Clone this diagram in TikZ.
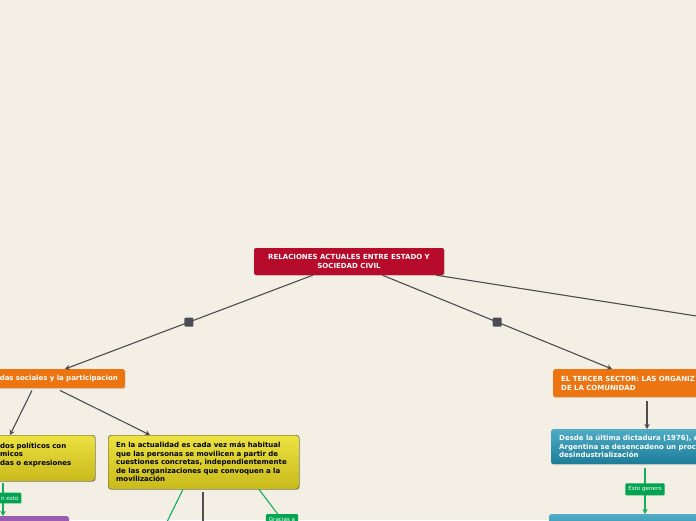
\documentclass[tikz,border=0pt]{standalone}
\usepackage{fontspec}
\setsansfont{DejaVu Sans}
\usetikzlibrary{positioning,calc,arrows.meta,shadows}
\definecolor{paper}{RGB}{244,239,228}
\definecolor{rootred}{RGB}{183,11,43}
\definecolor{topicorange}{RGB}{236,117,18}
\definecolor{ideatop}{RGB}{236,226,66}
\definecolor{ideabot}{RGB}{200,186,26}
\definecolor{facttop}{RGB}{80,172,198}
\definecolor{factbot}{RGB}{28,124,152}
\definecolor{linkgreen}{RGB}{20,172,90}
\definecolor{labelgreen}{RGB}{0,163,80}
\definecolor{respurple}{RGB}{155,92,178}
\definecolor{conngray}{RGB}{77,77,80}
\definecolor{knobgray}{RGB}{74,77,85}

\begin{document}
\begin{tikzpicture}[
    x=1pt, y=-1pt,
    >={Stealth[length=5pt,width=5.5pt]},
    font=\sffamily\bfseries\fontsize{7}{8.5}\selectfont,
    shade/.style={
        drop shadow={shadow xshift=0.8pt, shadow yshift=-0.8pt, opacity=0.25}
    },
    root/.style={
        shade,
        fill=rootred,
        text=white,
        rounded corners=2pt,
        minimum width=190pt,
        minimum height=27pt,
        align=center
    },
    topic/.style={
        shade,
        fill=topicorange,
        text=white,
        rounded corners=2pt,
        inner xsep=8pt
    },
    idea/.style={
        shade,
        draw=black!75,
        top color=ideatop,
        bottom color=ideabot,
        rounded corners=3pt,
        inner xsep=8pt,
        align=left
    },
    fact/.style={
        shade,
        top color=facttop,
        bottom color=factbot,
        text=white,
        rounded corners=2pt,
        inner xsep=8pt,
        align=left
    },
    glabel/.style={
        fill=labelgreen,
        text=white,
        font=\sffamily\fontsize{5.6}{6}\selectfont,
        rounded corners=1pt,
        inner xsep=3pt,
        minimum height=10pt
    },
    knob/.style={
        fill=knobgray,
        rounded corners=1pt,
        minimum size=9pt,
        inner sep=0pt
    },
    conn/.style={draw=conngray, line width=1.1pt},
    glink/.style={draw=linkgreen, line width=1.1pt}
]
\useasboundingbox (0,0) rectangle (696,520);
\fill[paper] (0,0) rectangle (696,520);
\clip (0,0) rectangle (696,520);

% central topic
\node[root] (rel) at (349,261.5)
{RELACIONES ACTUALES ENTRE ESTADO Y\\SOCIEDAD CIVIL};

% main branches
\node[topic, anchor=north east, text width=160pt, align=right,
      minimum height=19pt, inner xsep=7pt] (dem) at (125,369)
{das sociales y la participacion};

\node[topic, anchor=north west, text width=180pt, align=left,
      minimum height=28pt] (ter) at (553,369)
{EL TERCER SECTOR: LAS ORGANIZ\\DE LA COMUNIDAD};

\coordinate (offr) at (760,326);

% subtopics
\node[idea, anchor=north west, text width=91pt, minimum height=46pt,
      inner xsep=4pt] (pol) at (-4,435)
{dos políticos con\\micos\\das o expresiones\\~};

\node[idea, anchor=north west, text width=175pt, minimum height=54pt] (act) at (108,435)
{En la actualidad es cada vez más habitual\\
que las personas se movilicen a partir de\\
cuestiones concretas, independientemente\\
de las organizaciones que convoquen a la\\
movilización};

\node[fact, anchor=north west, text width=160pt, minimum height=35pt] (dic) at (551,429)
{Desde la última dictadura (1976), e\\
Argentina se desencadeno un proce\\
desindustrialización};

\node[fact, anchor=north west, minimum width=200pt, minimum height=30pt] (gen) at (549,514) {};

\node[anchor=north east, fill=respurple, rounded corners=2pt,
      minimum width=100pt, minimum height=20pt, shade] (res) at (69,516) {};

\node[glabel, anchor=north] (gra) at (282,514) {Gracias a};

\coordinate (offl) at (158,540);
\coordinate (offm) at (203,540);

% connectors
\draw[conn,->] (rel) -- ($(dem.north east)+(-60,0)$) node[knob, pos=0.5] {};
\draw[conn,->] (rel) -- ($(ter.north west)+(59,0)$) node[knob, pos=0.5] {};
\draw[conn] (rel) -- (offr);

\draw[conn,->] ($(dem.south east)+(-93,2)$) -- ($(pol.north west)+(14,0)$);
\draw[conn,->] ($(dem.south east)+(-65,2)$) -- ($(act.north west)+(42,0)$);
\draw[conn,->] ($(ter.south west)+(94,4)$) -- ($(dic.north west)+(96,0)$);

\draw[glink,->] ($(dic.south west)+(94,4)$) -- ($(gen.north west)+(96,0)$)
    node[glabel, pos=0.46] {Esto genero};
\draw[glink,->] ($(pol.south west)+(7,2)$) -- ($(res.north east)+(-66,0)$)
    node[glabel, pos=0.45, anchor=east, xshift=19pt] {n esto};

\draw[glink] ($(act.south west)+(75,0)$) -- (offl);
\draw[conn] ($(act.south west)+(95,3)$) -- (offm);
\draw[glink] ($(act.south west)+(151,0)$) -- (gra);

\end{tikzpicture}
\end{document}
